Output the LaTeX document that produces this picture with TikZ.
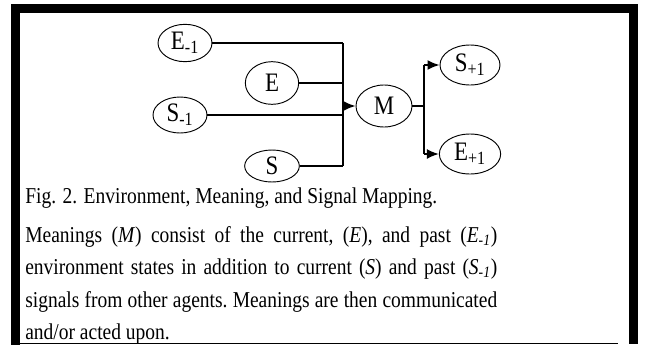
\documentclass[tikz,border=0pt]{standalone}
\usepackage{fontspec}
\setmainfont{Liberation Serif}[FakeStretch=0.86]
\usetikzlibrary{shapes.geometric,arrows.meta}

\newcommand{\fullline}[1]{\makebox[354pt][s]{#1}}

\begin{document}
\begin{tikzpicture}[
        x=0.75pt,
        y=-0.75pt,
        state/.style={
            ellipse,
            draw,
            line width=0.7pt,
            inner sep=0pt,
            font=\fontsize{20pt}{22pt}\selectfont
        },
        wire/.style={
            line width=1.3pt
        },
        arrow/.style={
            line width=1.3pt,
            -{Latex[length=9pt,width=7.5pt]}
        },
        caption/.style={
            anchor=base west,
            inner sep=0pt,
            font=\fontsize{17pt}{24.4pt}\selectfont
        }
    ]

        \useasboundingbox (0,0) rectangle (649,347);

        % frame
        \fill (11,4) rectangle (638,13);
        \fill (11,4) rectangle (20,345);
        \fill (629,4) rectangle (638,344);
        \draw[line width=0.8pt] (20,343.5) -- (618,343.5);

        \node[state, minimum width=40.5pt, minimum height=28pt] (Em1) at (185,43) {E\textsubscript{-1}};
        \node[state, minimum width=40pt, minimum height=32pt] (E) at (272,83) {E};
        \node[state, minimum width=40.5pt, minimum height=27pt] (Sm1) at (180,115) {S\textsubscript{-1}};
        \node[state, minimum width=41pt, minimum height=24pt] (S) at (272,166) {S};
        \node[state, minimum width=42pt, minimum height=31.5pt] (M) at (384,106) {M};
        \node[state, minimum width=45pt, minimum height=30pt] (Sp1) at (470,65) {S\textsubscript{+1}};
        \node[state, minimum width=46pt, minimum height=30pt] (Ep1) at (470,154) {E\textsubscript{+1}};

        \coordinate (bus) at (343,0);
        \coordinate (fork) at (424,0);

        \draw[wire] (Em1.east) -- (Em1.east -| bus);
        \draw[wire] (E.east) -- (E.east -| bus);
        \draw[wire] (Sm1.east) -- (Sm1.east -| bus);
        \draw[wire] (S.east) -- (S.east -| bus);
        \draw[wire] (Em1.east -| bus) -- (S.east -| bus);
        \draw[arrow] (M.west -| bus) -- (M.west);

        \draw[wire] (M.east) -- (M.east -| fork);
        \draw[wire] (Sp1.west -| fork) -- (Ep1.west -| fork);
        \draw[arrow] (Sp1.west -| fork) -- (Sp1.west);
        \draw[arrow] (Ep1.west -| fork) -- (Ep1.west);

        \node[caption] (fig) at (25,203)
            {Fig. 2. Environment, Meaning, and Signal Mapping.};
        \node[caption, text width=354pt, align=justify] (body) at (25,242)
            {\frenchspacing
             \fullline{Meanings (\textit{M}) consist of the current, (\textit{E}), and past (\textit{E}\textsubscript{\textit{-1}})}\\
             \fullline{environment states in addition to current (\textit{S}) and past (\textit{S}\textsubscript{\textit{-1}})}\\
             \fullline{signals from other agents. Meanings are then communicated}\\
             and/or acted upon.};

    \end{tikzpicture}
\end{document}
